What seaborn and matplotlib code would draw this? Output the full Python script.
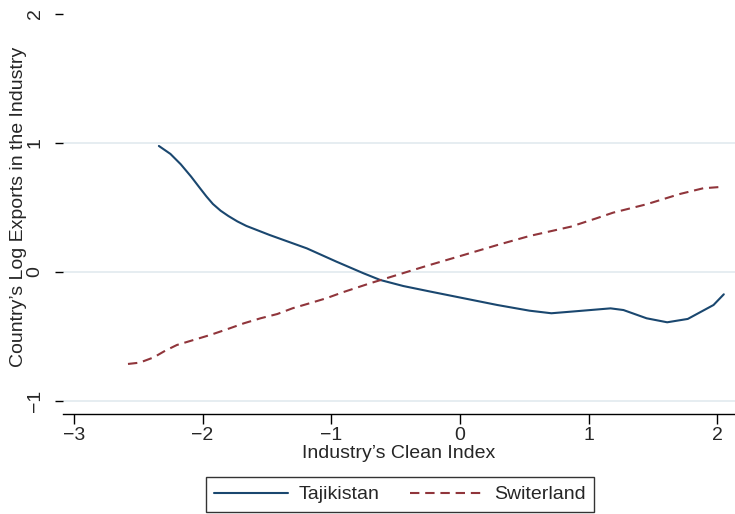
import matplotlib
matplotlib.use("Agg")
import matplotlib.pyplot as plt
from matplotlib.lines import Line2D
import seaborn as sns
import pandas as pd

# Smoothed log exports against the industry clean index
taj_x = [-2.34, -2.25, -2.17, -2.09, -2.02, -1.97, -1.92, -1.86, -1.80, -1.73,
         -1.66, -1.48, -1.19, -0.96, -0.75, -0.62, -0.44, -0.23, 0.03, 0.29,
         0.54, 0.71, 0.93, 1.17, 1.27, 1.45, 1.61, 1.77, 1.97, 2.05]
taj_y = [0.977, 0.915, 0.835, 0.740, 0.649, 0.585, 0.527, 0.475, 0.434, 0.392,
         0.357, 0.287, 0.183, 0.080, -0.010, -0.062, -0.109, -0.152, -0.204, -0.256,
         -0.300, -0.320, -0.302, -0.282, -0.295, -0.359, -0.390, -0.364, -0.256, -0.173]

swi_x = [-2.58, -2.49, -2.38, -2.29, -2.20, -2.07, -1.94, -1.81, -1.68, -1.55,
         -1.42, -1.30, -1.17, -1.04, -0.91, -0.70, -0.26, 0.03, 0.29, 0.54,
         0.86, 1.06, 1.19, 1.45, 1.71, 1.89, 2.05]
swi_y = [-0.713, -0.703, -0.662, -0.610, -0.566, -0.527, -0.488, -0.444, -0.398, -0.359,
         -0.326, -0.281, -0.243, -0.204, -0.157, -0.088, 0.047, 0.132, 0.209, 0.279,
         0.351, 0.416, 0.460, 0.525, 0.605, 0.649, 0.661]

countries = ["Tajikistan", "Switerland"]
x_ticks = [-3, -2, -1, 0, 1, 2]
y_ticks = [-1, 0, 1, 2]

df = pd.concat([
    pd.DataFrame({"clean": taj_x, "exports": taj_y, "country": countries[0]}),
    pd.DataFrame({"clean": swi_x, "exports": swi_y, "country": countries[1]}),
], ignore_index=True)

sns.set_theme(style="white")
plt.rcParams["font.family"] = ["Liberation Sans", "DejaVu Sans"]

navy, maroon = "#1a476f", "#90353b"
dash = (4.5, 2.8)
fs = 14

fig = plt.figure(figsize=(7.35, 5.14), dpi=100)
ax = fig.add_axes([63 / 735, 1 - 414 / 514, 1 - 63 / 735, (414 - 14) / 514])

for yv in [-1, 0, 1]:
    ax.axhline(yv, color="#e6edf1", lw=1.4, zorder=0)

sns.lineplot(data=df, x="clean", y="exports", hue="country", style="country",
             hue_order=countries, style_order=countries,
             palette={"Tajikistan": navy, "Switerland": maroon},
             dashes={"Tajikistan": "", "Switerland": dash},
             estimator=None, sort=False, lw=1.5, ax=ax, legend=False)

ax.set_xlim(-3.085, 2.137)
ax.set_ylim(-1.101, 2.0)
ax.set_xticks(x_ticks)
ax.set_yticks(y_ticks)
ax.set_xticklabels([str(v).replace("-", "\u2212") for v in x_ticks], fontsize=fs)
ax.set_yticklabels([str(v).replace("-", "\u2212") for v in y_ticks], fontsize=fs,
                   rotation=90, va="center")
ax.set_xlabel("Industry\u2019s Clean Index", fontsize=fs, labelpad=1)
ax.set_ylabel("Country\u2019s Log Exports in the Industry", fontsize=fs)
ax.yaxis.set_label_coords(-0.054, 0.5175)

for s in ["top", "right", "left"]:
    ax.spines[s].set_visible(False)
ax.spines["bottom"].set_color("black")
ax.spines["bottom"].set_linewidth(1.0)
ax.tick_params(axis="x", direction="out", length=7, width=1, color="black", pad=2,
               bottom=True)
ax.tick_params(axis="y", direction="out", length=6, width=1, color="black", pad=8,
               left=True)

handles = [Line2D([], [], color=navy, lw=1.5),
           Line2D([], [], color=maroon, lw=1.5, ls=(0, dash))]
leg = fig.legend(handles, countries, loc="center",
                 bbox_to_anchor=(400 / 735, 1 - 494.5 / 514),
                 ncol=2, fontsize=fs, frameon=True, fancybox=False,
                 handlelength=3.76, columnspacing=1.6, borderpad=0.45,
                 handletextpad=0.55)
leg.get_frame().set_edgecolor("black")
leg.get_frame().set_linewidth(1.0)

fig.savefig("out.png", dpi=100)
